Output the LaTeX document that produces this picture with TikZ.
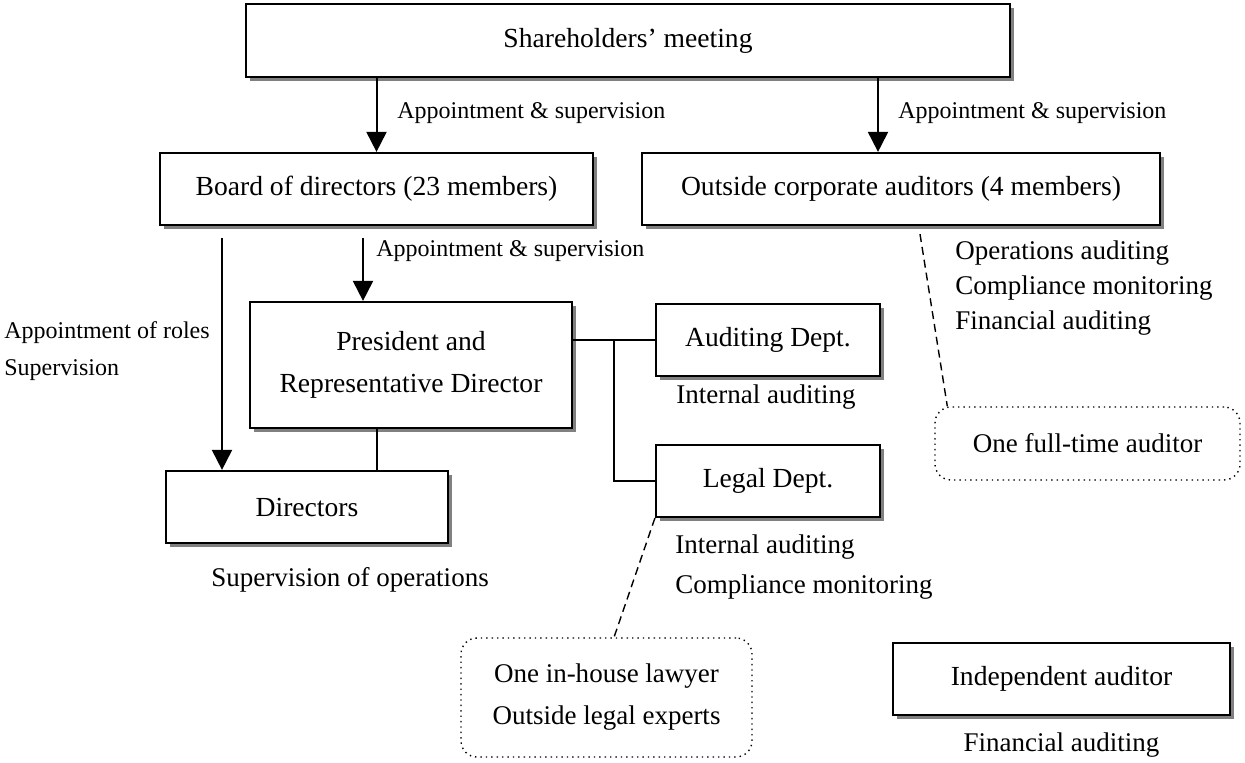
\documentclass[tikz,border=0pt]{standalone}
\usepackage{fontspec}
\setmainfont{Liberation Serif}
\usetikzlibrary{arrows.meta,shadows}
\tikzset{
  orgbox/.style={draw, line width=1.1pt, fill=white, inner sep=0pt, align=center,
    font=\fontsize{13.8}{21}\selectfont,
    drop shadow={shadow xshift=2.2pt, shadow yshift=-2.2pt, fill=black!50, opacity=1}},
  notebox/.style={draw, dotted, line width=0.7pt, rounded corners=8pt, inner sep=0pt,
    align=center, font=\fontsize{13.5}{21}\selectfont},
  duty/.style={anchor=west, inner sep=0pt, align=left, font=\fontsize{13.5}{17.5}\selectfont},
  smalllbl/.style={anchor=west, inner sep=0pt, align=left, font=\fontsize{12}{18.5}\selectfont},
  link/.style={line width=1pt},
  tolink/.style={line width=1pt, -{Triangle[width=10pt,length=10pt]}},
  dashlink/.style={line width=0.7pt, dash pattern=on 4pt off 2.5pt}
}
\begin{document}
\begin{tikzpicture}[x=0.5pt,y=-0.5pt]
    \useasboundingbox (0,0) rectangle (1245,763);
    % boxes
    \node[orgbox, minimum width=382pt, minimum height=36.5pt] (share) at (628,40.5) {Shareholders’ meeting};
    \node[orgbox, minimum width=216.5pt, minimum height=36pt] (board) at (376.5,189) {Board of directors (23 members)};
    \node[orgbox, minimum width=259pt, minimum height=36pt] (outside) at (901,189) {Outside corporate auditors (4 members)};
    \node[orgbox, minimum width=161pt, minimum height=63pt] (pres) at (411,365) {President and\\Representative Director};
    \node[orgbox, minimum width=112pt, minimum height=36pt] (aud) at (768,340) {Auditing Dept.};
    \node[orgbox, minimum width=112pt, minimum height=36pt] (legal) at (768,481) {Legal Dept.};
    \node[orgbox, minimum width=141pt, minimum height=36pt] (dir) at (307,507) {Directors};
    \node[orgbox, minimum width=168.5pt, minimum height=36pt] (indep) at (1061.5,679) {Independent auditor};
    \node[notebox, minimum width=152.5pt, minimum height=36.5pt] (fulltime) at (1087.5,443.5) {One full-time auditor};
    \node[notebox, minimum width=145.5pt, minimum height=59.5pt] (lawyer) at (606.5,697.5) {One in-house lawyer\\Outside legal experts};

    % arrows from above
    \coordinate (rx) at (878,0);
    \coordinate (ax) at (363,0);
    \coordinate (lx) at (222,0);
    \draw[tolink] (share.south -| board.north) -- (board.north);
    \draw[tolink] (share.south -| rx) -- (outside.north -| rx);
    \draw[tolink] ([yshift=-6pt]board.south -| ax) -- (pres.north -| ax);
    \draw[tolink] ([yshift=-6pt]board.south -| lx) -- (dir.north -| lx);
    \node[smalllbl] (lblA) at (397,113) {Appointment \& supervision};
    \node[smalllbl] (lblB) at (898,113) {Appointment \& supervision};
    \node[smalllbl] (lblC) at (376,251) {Appointment \& supervision};
    \node[smalllbl] (lblD) at (4,351.5) {Appointment of roles\\Supervision};

    % plain links
    \coordinate (br) at (614,340);
    \draw[link] (pres.east |- aud.west) -- (aud.west);
    \draw[link] (br) |- (legal.west);
    \draw[link] (pres.south -| board.south) -- (dir.north -| board.south);

    % duties
    \node[duty] (audduty) at (676,397) {Internal auditing};
    \node[duty, font=\fontsize{13.5}{20}\selectfont] (legalduty) at (675,567) {Internal auditing\\Compliance monitoring};
    \node[duty] (outduty) at (955,288) {Operations auditing\\Compliance monitoring\\Financial auditing};
    \node[duty, anchor=center] (dirduty) at (350,580) {Supervision of operations};
    \node[duty, anchor=center] (indduty) at (1061.5,745) {Financial auditing};

    % dashed links to the staff notes
    \coordinate (dl) at (614,0);
    \coordinate (dr) at (920,0);
    \draw[dashlink] (legal.south west) -- (lawyer.north -| dl);
    \draw[dashlink] ([yshift=-4pt]outside.south -| dr) -- ([xshift=6.5pt]fulltime.north west);
\end{tikzpicture}
\end{document}
